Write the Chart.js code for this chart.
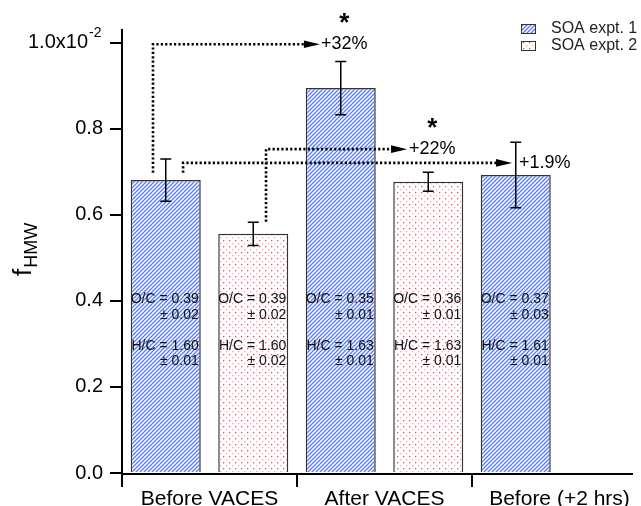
<!DOCTYPE html>
<html>
<head>
<meta charset="utf-8">
<script src="https://cdn.jsdelivr.net/npm/chart.js@4/dist/chart.umd.min.js"></script>
<style>
  html, body { margin: 0; padding: 0; overflow: hidden; background: #fff; width: 641px; height: 506px; }
</style>
</head>
<body>
<canvas id="c" width="660" height="506"></canvas>
<script>
// --- DATA ---
const categories = ['Before VACES', 'After VACES', 'Before (+2 hrs)'];
const expt1 = [0.681, 0.895, 0.693];
const expt1Err = [0.049, 0.062, 0.076];
const expt2 = [0.556, 0.677, null];
const expt2Err = [0.027, 0.022, null];
const yTicks = [0, 0.2, 0.4, 0.6, 0.8, 1.0];

// elemental ratios printed inside the bars
const expt1OC = ['0.39', '0.35', '0.37'];
const expt1OCErr = ['0.02', '0.01', '0.03'];
const expt1HC = ['1.60', '1.63', '1.61'];
const expt1HCErr = ['0.01', '0.01', '0.01'];
const expt2OC = ['0.39', '0.36'];
const expt2OCErr = ['0.02', '0.01'];
const expt2HC = ['1.60', '1.63'];
const expt2HCErr = ['0.02', '0.01'];

// dotted arrows (x in category units, y in f_HMW units)
const arrowFromX = [-0.323, -0.151, 0.323];
const arrowFromY = [0.698, 0.698, 0.584];
const arrowLevel = [0.997, 0.721, 0.753];
const arrowToX = [0.631, 1.729, 1.129];
const arrowTextX = [0.637, 1.769, 1.14];
const arrowLabels = ['+32%', '+1.9%', '+22%'];
const arrowStar = [true, false, true];

const FONT = "'Liberation Sans', Arial, sans-serif";

// --- PATTERNS ---
const ctx = document.getElementById('c').getContext('2d');

function stripeFill() {
    const c = document.createElement('canvas');
    c.width = 4; c.height = 4;
    const g = c.getContext('2d');
    g.fillStyle = '#fff'; g.fillRect(0, 0, 4, 4);
    g.strokeStyle = '#5a7ee2'; g.lineWidth = 1.3;
    g.beginPath();
    g.moveTo(0, 4); g.lineTo(4, 0);
    g.moveTo(-1, 1); g.lineTo(1, -1);
    g.moveTo(3, 5); g.lineTo(5, 3);
    g.stroke();
    return ctx.createPattern(c, 'repeat');
}

function dotFill() {
    const c = document.createElement('canvas');
    c.width = 6; c.height = 6;
    const g = c.getContext('2d');
    g.fillStyle = '#fff'; g.fillRect(0, 0, 6, 6);
    g.fillStyle = '#ec4862';
    g.fillRect(1, 0, 1.3, 1.3);
    g.fillStyle = '#f4a6b4';
    g.fillRect(4, 3, 1.3, 1.3);
    return ctx.createPattern(c, 'repeat');
}

const blueFill = stripeFill();
const redFill = dotFill();

// --- OVERLAY PLUGIN ---
const overlay = {
    id: 'overlay',
    afterDatasetsDraw(chart) {
        const c = chart.ctx;
        const xs = chart.scales.x, ys = chart.scales.y;
        const sets = [
            { vals: expt1, err: expt1Err, oc: expt1OC, ocE: expt1OCErr, hc: expt1HC, hcE: expt1HCErr },
            { vals: expt2, err: expt2Err, oc: expt2OC, ocE: expt2OCErr, hc: expt2HC, hcE: expt2HCErr }
        ];
        c.save();
        sets.forEach((s, di) => {
            const meta = chart.getDatasetMeta(di);
            s.vals.forEach((v, i) => {
                if (v === null) return;
                const bar = meta.data[i];
                // error bar
                const yTop = ys.getPixelForValue(v + s.err[i]);
                const yBot = ys.getPixelForValue(v - s.err[i]);
                c.strokeStyle = '#000'; c.lineWidth = 1.5; c.setLineDash([]);
                c.beginPath();
                c.moveTo(bar.x, yTop); c.lineTo(bar.x, yBot);
                c.moveTo(bar.x - 5.5, yTop); c.lineTo(bar.x + 5.5, yTop);
                c.moveTo(bar.x - 5.5, yBot); c.lineTo(bar.x + 5.5, yBot);
                c.stroke();
                // ratio text
                const right = bar.x + bar.width / 2 - 2;
                c.fillStyle = '#111';
                c.font = '14px ' + FONT;
                c.textAlign = 'right'; c.textBaseline = 'middle';
                c.fillText('O/C = ' + s.oc[i], right, ys.getPixelForValue(0.405));
                c.fillText('\u00b1 ' + s.ocE[i], right, ys.getPixelForValue(0.367));
                c.fillText('H/C = ' + s.hc[i], right, ys.getPixelForValue(0.296));
                c.fillText('\u00b1 ' + s.hcE[i], right, ys.getPixelForValue(0.261));
            });
        });

        // dotted arrows
        arrowLabels.forEach((lab, i) => {
            const x0 = xs.getPixelForValue(arrowFromX[i]);
            const y0 = ys.getPixelForValue(arrowFromY[i]);
            const yl = ys.getPixelForValue(arrowLevel[i]);
            const tip = xs.getPixelForValue(arrowToX[i]);
            c.strokeStyle = '#000'; c.lineWidth = 2.6;
            c.setLineDash([2.2, 2.2]);
            c.beginPath();
            c.moveTo(x0, y0); c.lineTo(x0, yl); c.lineTo(tip - 14, yl);
            c.stroke();
            c.setLineDash([]);
            c.fillStyle = '#000';
            c.beginPath();
            c.moveTo(tip, yl); c.lineTo(tip - 16, yl - 3.8); c.lineTo(tip - 16, yl + 3.8); c.closePath();
            c.fill();
            c.font = '18px ' + FONT;
            c.textAlign = 'left'; c.textBaseline = 'middle';
            const tx = xs.getPixelForValue(arrowTextX[i]);
            c.fillText(lab, tx, yl);
            if (arrowStar[i]) {
                const w = c.measureText(lab).width;
                c.font = 'bold 26px ' + FONT;
                c.textAlign = 'center';
                c.fillText('*', tx + w / 2, yl - 20);
            }
        });
        c.restore();
    },
    afterDraw(chart) {
        const c = chart.ctx;
        const a = chart.chartArea;
        const ys = chart.scales.y;
        c.save();
        // x axis line
        c.strokeStyle = '#000'; c.lineWidth = 2;
        c.beginPath(); c.moveTo(a.left - 1, a.bottom + 1); c.lineTo(a.right - 14, a.bottom + 1); c.stroke();

        // top tick label 1.0x10^-2
        c.fillStyle = '#000';
        const y1 = ys.getPixelForValue(1);
        c.font = '20px ' + FONT; c.textAlign = 'right'; c.textBaseline = 'middle';
        c.fillText('1.0x10', 88, y1);
        c.font = '14px ' + FONT; c.textAlign = 'left';
        c.fillText('-2', 89, y1 - 10);

        // y axis title f_HMW (rotated)
        c.translate(31, 276);
        c.rotate(-Math.PI / 2);
        c.textAlign = 'left'; c.textBaseline = 'alphabetic';
        c.font = '26px ' + FONT;
        c.fillText('f', 0, 0);
        const fw = c.measureText('f').width;
        c.font = '18px ' + FONT;
        c.fillText('HMW', fw + 1, 6);
        c.setTransform(1, 0, 0, 1, 0, 0);

        // legend
        const items = [['SOA expt. 1', blueFill], ['SOA expt. 2', redFill]];
        items.forEach((it, i) => {
            const y = 24 + i * 17;
            c.fillStyle = it[1];
            c.fillRect(521, y, 14, 9);
            c.strokeStyle = '#333'; c.lineWidth = 1;
            c.strokeRect(521.5, y + 0.5, 14, 9);
            c.fillStyle = '#222';
            c.font = '16px ' + FONT; c.textAlign = 'left'; c.textBaseline = 'middle';
            c.fillText(it[0], 551, y + 5);
        });
        c.restore();
    }
};

// --- CHART ---
new Chart(ctx, {
    type: 'bar',
    data: {
        labels: categories,
        datasets: [
            { label: 'SOA expt. 1', data: expt1, backgroundColor: blueFill, borderColor: '#333', borderWidth: 1.5,
              barPercentage: 0.8, categoryPercentage: 1.0 },
            { label: 'SOA expt. 2', data: expt2, backgroundColor: redFill, borderColor: '#333', borderWidth: 1.5,
              barPercentage: 0.8, categoryPercentage: 1.0 }
        ]
    },
    options: {
        responsive: false,
        animation: false,
        devicePixelRatio: 1,
        layout: { padding: { top: 30, right: 13, left: 0, bottom: 0 } },
        plugins: { legend: { display: false }, tooltip: { enabled: false } },
        scales: {
            x: {
                offset: true,
                grid: { offset: true, drawOnChartArea: false, color: '#000', lineWidth: 2, tickLength: 14 },
                border: { display: false },
                ticks: { color: '#000', font: { family: FONT, size: 21 }, padding: 0, maxRotation: 0, autoSkip: false },
                afterFit: s => { s.height = 33; }
            },
            y: {
                min: 0, max: 1.03,
                afterBuildTicks: s => { s.ticks = yTicks.map(v => ({ value: v })); },
                grid: { drawOnChartArea: false, color: '#000', lineWidth: 2, tickLength: 12 },
                border: { display: true, color: '#000', width: 2 },
                ticks: { color: '#000', font: { family: FONT, size: 20 }, padding: 7,
                         callback: v => v === 1 ? '' : v.toFixed(1) },
                afterFit: s => { s.width = 122; }
            }
        }
    },
    plugins: [overlay]
});
</script>
</body>
</html>
